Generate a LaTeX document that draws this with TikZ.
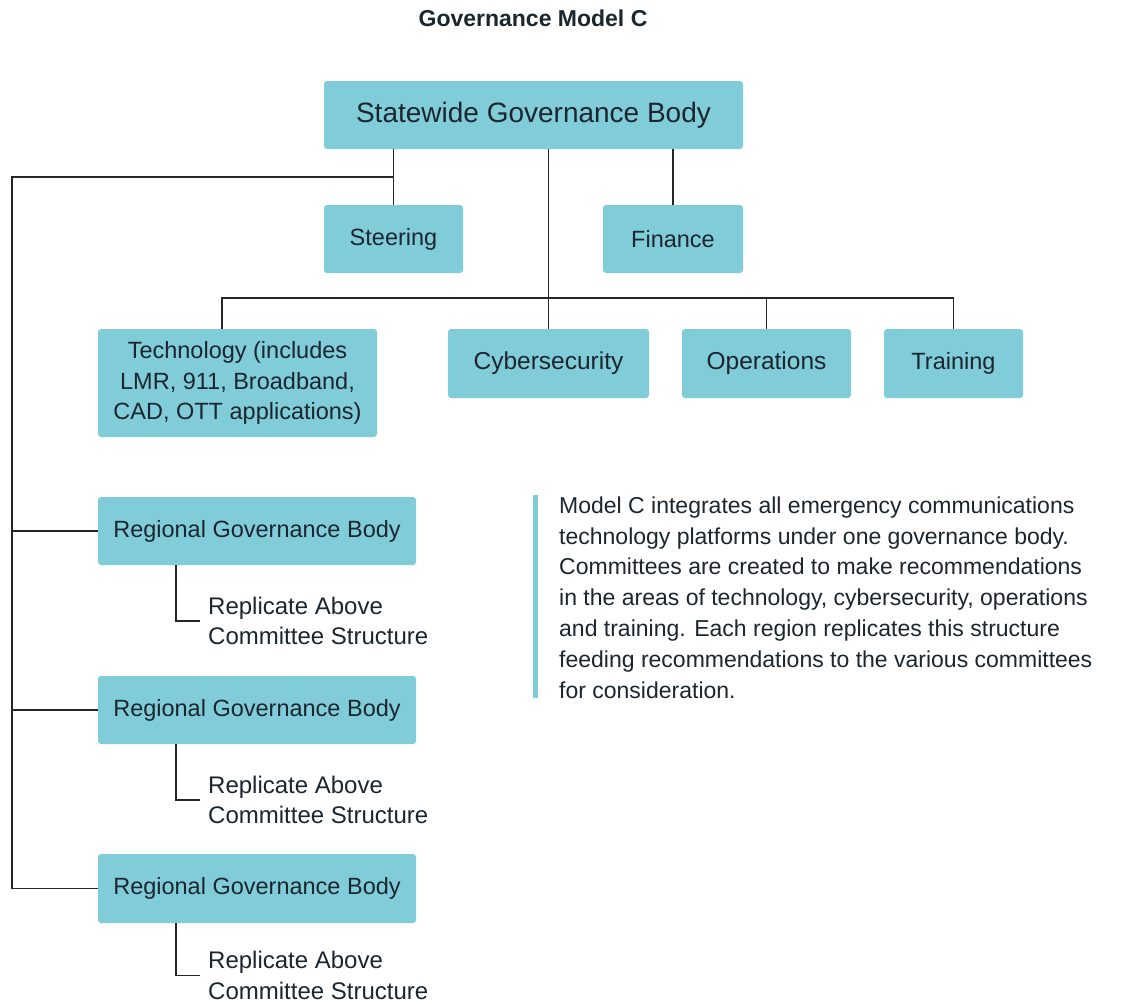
\documentclass[tikz,border=0pt]{standalone}
\usepackage{fontspec}
\setmainfont{Liberation Sans}
\definecolor{boxfill}{RGB}{128,204,217}
\definecolor{txt}{RGB}{27,38,46}
\begin{document}
\begin{tikzpicture}[x=1pt,y=-1pt,
  box/.style={fill=boxfill, rounded corners=3pt, text=txt, align=center, inner sep=0pt,
    font=\fontsize{23.5}{30.5}\selectfont},
  conn/.style={draw=black!85, line width=1.8pt},
  plain/.style={text=txt, align=left, inner sep=0pt, font=\fontsize{24}{30.5}\selectfont}]
\useasboundingbox (0,0) rectangle (1122,1004);
\fill[white] (0,0) rectangle (1122,1004);

\node[font=\bfseries\fontsize{23}{26}\selectfont, text=txt] (title) at (533,18) {Governance Model C};

\node[box, minimum width=419pt, minimum height=68pt, font=\fontsize{28}{32}\selectfont] (top) at (533.5,115) {Statewide Governance Body};
\node[box, minimum width=139pt, minimum height=68pt] (steer) at (393.5,239) {Steering};
\node[box, minimum width=140pt, minimum height=68pt] (fin) at (673,239) {Finance};
\node[box, minimum width=279pt, minimum height=108pt] (tech) at (237.5,383) {Technology (includes\\LMR, 911, Broadband,\\CAD, OTT applications)};
\node[box, minimum width=201pt, minimum height=69pt, font=\fontsize{24.5}{30}\selectfont] (cyber) at (548.5,363.5) {Cybersecurity};
\node[box, minimum width=169pt, minimum height=69pt, font=\fontsize{24.5}{30}\selectfont] (ops) at (766.5,363.5) {Operations};
\node[box, minimum width=139pt, minimum height=69pt] (train) at (953.5,363.5) {Training};

\node[box, minimum width=318pt, minimum height=68pt] (reg1) at (257,531) {Regional Governance Body};
\node[box, minimum width=318pt, minimum height=68pt] (reg2) at (257,710) {Regional Governance Body};
\node[box, minimum width=318pt, minimum height=69pt] (reg3) at (257,888.5) {Regional Governance Body};

\node[plain, anchor=west] (rep1) at (208,621) {Replicate Above\\Committee Structure};
\node[plain, anchor=west] (rep2) at (208,800) {Replicate Above\\Committee Structure};
\node[plain, anchor=west] (rep3) at (208,975.5) {Replicate Above\\Committee Structure};

% connectors
\coordinate (lt) at (12,177);
\coordinate (bus) at (548,298);
\draw[conn] (top.south -| steer.north) -- (steer.north);
\draw[conn] (lt -| steer.north) -- (lt) |- (reg3.west);
\draw[conn] (reg1.west -| lt) -- (reg1.west);
\draw[conn] (reg2.west -| lt) -- (reg2.west);
\draw[conn] (top.south -| fin.north) -- (fin.north);
\draw[conn] (top.south -| cyber.north) -- (cyber.north);
\draw[conn] ([xshift=-15.5pt]tech.north) |- (bus) -| (train.north);
\draw[conn] (bus -| ops.north) -- (ops.north);

\draw[conn] ([xshift=78pt]reg1.south west) |- ([xshift=-8pt]rep1.west);
\draw[conn] ([xshift=78pt]reg2.south west) |- ([xshift=-8pt]rep2.west);
\draw[conn] ([xshift=78pt]reg3.south west) |- ([xshift=-8pt]rep3.west);

% description
\fill[boxfill] (533,495) coordinate (barT) rectangle (537.5,698) coordinate (barB);
\node[plain, anchor=north west, font=\fontsize{23}{30.8}\selectfont] (desc) at (559,496.5) {Model C integrates all emergency communications\\technology platforms under one governance body.\\Committees are created to make recommendations\\in the areas of technology, cybersecurity, operations\\and training. Each region replicates this structure\\feeding recommendations to the various committees\\for consideration.};
\end{tikzpicture}
\end{document}
